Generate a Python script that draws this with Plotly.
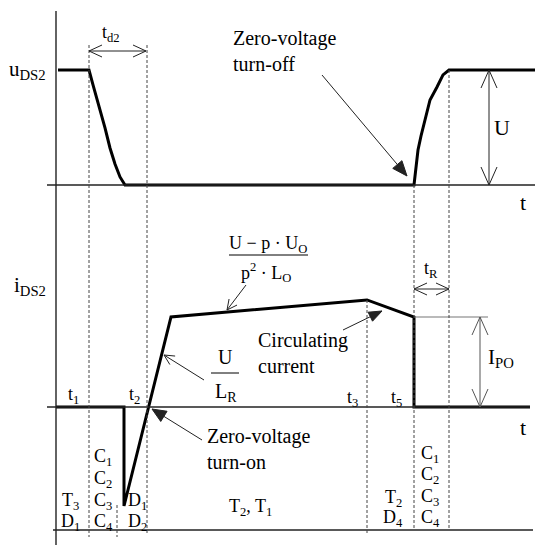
import math
import plotly.graph_objects as go

W, H = 535, 545
SERIF = "Liberation Serif"

# ---------------------------------------------------------------- data ----
# drain-source voltage of T2, per unit of U
u_time = [58, 89, 93, 97, 101, 105, 110, 115, 120, 125,
          414, 416, 418, 421, 425, 430, 437, 443, 449, 535]
u_value = [1.0, 1.0, 0.870, 0.748, 0.617, 0.496, 0.322, 0.183, 0.070, 0.0,
           0.0, 0.157, 0.304, 0.426, 0.557, 0.739, 0.852, 0.957, 1.0, 1.0]

# drain current of T2, per unit of I_PO
i_time = [56, 124, 124, 171, 367, 414, 414, 530]
i_value = [0.0, 0.0, -1.1, 1.0, 1.19, 1.0, 0.0, 0.0]

# switching instants (time axis units)
t_start, t_cap, t_two, t_three, t_five, t_end = 89, 117, 147, 367, 414, 449

# interval labels: conducting devices in each sub-interval
interval_texts = [
    ["T<sub>3</sub>", "D<sub>1</sub>"],
    ["C<sub>1</sub>", "C<sub>2</sub>", "C<sub>3</sub>", "C<sub>4</sub>"],
    ["D<sub>1</sub>", "D<sub>2</sub>"],
    ["T<sub>2</sub>, T<sub>1</sub>"],
    ["T<sub>2</sub>", "D<sub>4</sub>"],
    ["C<sub>1</sub>", "C<sub>2</sub>", "C<sub>3</sub>", "C<sub>4</sub>"],
]
instant_labels = ["t<sub>1</sub>", "t<sub>2</sub>", "t<sub>3</sub>", "t<sub>5</sub>"]

# ------------------------------------------------------------- scaling ----
V_ZERO, V_UNIT = 185, 115      # row of u=0 and length of U on the page
I_ZERO, I_UNIT = 407, 90       # row of i=0 and length of I_PO on the page

fig = go.Figure()
fig.add_trace(go.Scatter(x=u_time, y=u_value, yaxis="y2", mode="lines",
                         line=dict(color="black", width=3), hoverinfo="skip"))
fig.add_trace(go.Scatter(x=i_time, y=i_value, yaxis="y3", mode="lines",
                         line=dict(color="black", width=3), hoverinfo="skip"))

hidden = dict(visible=False, showgrid=False, zeroline=False, fixedrange=True)
fig.update_layout(
    width=W, height=H,
    margin=dict(l=0, r=0, t=0, b=0),
    paper_bgcolor="white", plot_bgcolor="white",
    showlegend=False,
    font=dict(family=SERIF, color="black"),
    xaxis=dict(range=[0, W], **hidden),
    yaxis=dict(range=[H, 0], **hidden),
    yaxis2=dict(range=[(V_ZERO - H) / V_UNIT, V_ZERO / V_UNIT],
                overlaying="y", **hidden),
    yaxis3=dict(range=[(I_ZERO - H) / I_UNIT, I_ZERO / I_UNIT],
                overlaying="y", **hidden),
)


def line(x0, y0, x1, y1, color="#222", width=1.2, dash=None):
    fig.add_shape(type="line", x0=x0, y0=y0, x1=x1, y1=y1, xref="x", yref="y",
                  line=dict(color=color, width=width, dash=dash), layer="above")


def head(xs, ys, xt, yt, length, half, filled, color="#222"):
    """Arrow head with its tip at (xt, yt), pointing away from (xs, ys)."""
    dx, dy = xt - xs, yt - ys
    n = math.hypot(dx, dy)
    ux, uy = dx / n, dy / n
    bx, by = xt - ux * length, yt - uy * length
    ax, ay = bx - uy * half, by + ux * half
    cx, cy = bx + uy * half, by - ux * half
    path = f"M{ax},{ay} L{xt},{yt} L{cx},{cy}"
    if filled:
        fig.add_shape(type="path", path=path + " Z", xref="x", yref="y",
                      fillcolor=color, line=dict(color=color, width=1), layer="above")
    else:
        fig.add_shape(type="path", path=path, xref="x", yref="y",
                      line=dict(color=color, width=1), layer="above")


def arrow(x0, y0, x1, y1, length, half, filled, both=False, color="#222"):
    line(x0, y0, x1, y1, color=color, width=1)
    head(x0, y0, x1, y1, length, half, filled, color)
    if both:
        head(x1, y1, x0, y0, length, half, filled, color)


def text(s, x, y, size=20, anchor="center"):
    fig.add_annotation(x=x, y=y, xref="x", yref="y", text=s, showarrow=False,
                       xanchor=anchor, yanchor="middle", align=anchor,
                       font=dict(family=SERIF, size=size, color="black"))


# ------------------------------------------------------------ frame -------
line(56, 11, 56, H, width=1.4)                 # vertical axis
line(47, V_ZERO, W, V_ZERO, width=1.4)         # u = 0
line(47, I_ZERO, 530, I_ZERO, width=1.4)       # i = 0
line(53, 530, 533, 530, width=1.4)             # interval strip
line(t_five, 317, 488, 317, color="#777", width=1.2)   # I_PO level

# instants (dashed guides)
dash = "3px,2px"
line(t_start, 45, t_start, 537, color="#444", width=1, dash=dash)
line(t_two, 45, t_two, 533, color="#444", width=1, dash=dash)
line(t_cap, 505, t_cap, 537, color="#444", width=1, dash=dash)
line(t_three, 300, t_three, 533, color="#444", width=1, dash=dash)
line(t_five, 185, t_five, 530, color="#444", width=1, dash=dash)
line(t_end, 70, t_end, 528, color="#444", width=1, dash=dash)

# dimension arrows
arrow(t_start, 51, t_two - 1, 51, 13, 6, False, both=True)
arrow(489, 70, 489, 185, 18, 8, False, both=True)
arrow(t_five, 289, t_end, 289, 13, 6, False, both=True)
arrow(480, 317, 480, 407, 18, 8, False, both=True, color="#555")

# pointer arrows
arrow(322, 75, 407, 176, 15, 6, True)          # zero-voltage turn-off
arrow(343, 330, 382, 311, 13, 5, True)         # circulating current
arrow(202, 440, 152, 409, 14, 6, True)         # zero-voltage turn-on
arrow(246, 285, 227, 310, 10, 5, False)        # slope of the ramp
arrow(204, 380, 164, 355, 10, 5, False)        # U / L_R slope

# fraction bars
line(229, 255, 308, 255, color="black", width=1)
line(211, 373, 239, 373, color="black", width=1)

# ------------------------------------------------------------ labels ------
text("u<sub>DS2</sub>", 7, 70, 21, "left")
text("i<sub>DS2</sub>", 12, 286, 21, "left")
text("t<sub>d2</sub>", 111, 33, 18)
text("Zero-voltage<br>turn-off", 231, 51, 20, "left")
text("U", 502, 127, 22)
text("t", 523, 202, 22)
text("t", 523, 427, 22)
text("U − p · U<sub>O</sub>", 268, 244, 18)
text("p<sup>2</sup> · L<sub>O</sub>", 266, 272, 18)
text("t<sub>R</sub>", 431, 269, 18)
text("Circulating<br>current", 256, 353, 20, "left")
text("U", 225, 357, 20)
text("L<sub>R</sub>", 226, 392, 20)
text("I<sub>PO</sub>", 486, 358, 21, "left")
text("Zero-voltage<br>turn-on", 205, 449, 20, "left")

for s, x, y in zip(instant_labels, [73, 134, 352, 396], [395, 395, 398, 398]):
    text(s, x, y, 18)

rows4 = [457, 479, 501, 522]
rows2 = [501, 522]
col_pos = [
    (70, rows2),
    (103, rows4),
    (137, rows2),
    (250, [507]),
    (393, [498, 518]),
    (430, [454, 475, 497, 518]),
]
for items, (x, rows) in zip(interval_texts, col_pos):
    for s, y in zip(items, rows):
        text(s, x, y, 18)

fig.write_html("out.html")
